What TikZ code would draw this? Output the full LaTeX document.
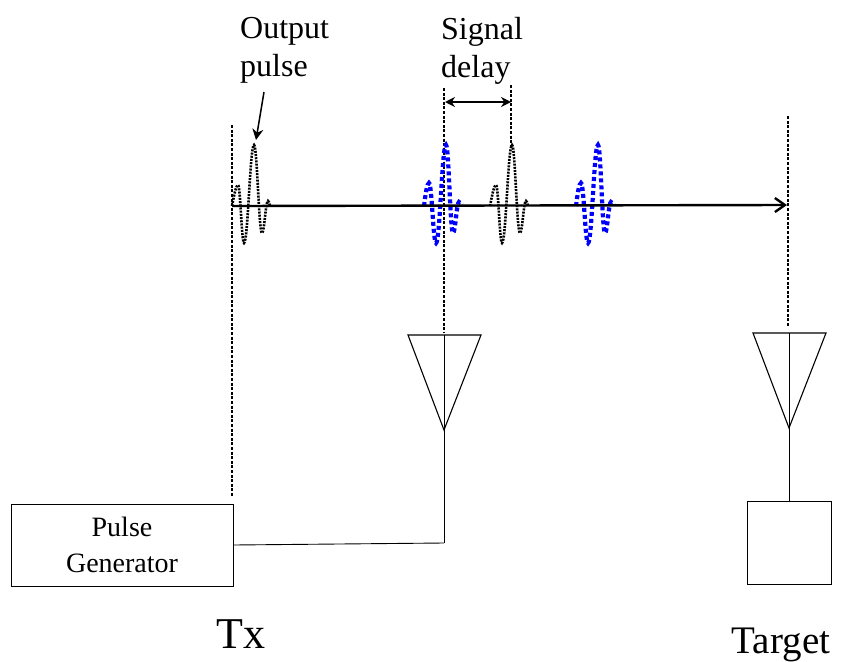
\documentclass[tikz,border=0pt]{standalone}
\usepackage{fontspec}
\setmainfont{Liberation Serif}
\usetikzlibrary{positioning,calc,arrows.meta}
\tikzset{
  pulsepath/.pic={\draw[pic actions] (0,0) .. controls (2,-10) and (4,-21) .. (6,-21)
    .. controls (8.4,-21) and (9.6,37) .. (12,37) .. controls (16,37) and (18,-61) .. (22,-61)
    .. controls (25.2,-61) and (26.8,27) .. (30,27) .. controls (32.4,27) and (33.6,-5) .. (36,-5)
    .. controls (36.8,-5) and (37.4,-3) .. (38,0);},
  bluepulsepath/.pic={\draw[pic actions] (0,0) .. controls (1.6,-12) and (3,-23) .. (5,-23)
    .. controls (7.8,-23) and (9.2,37) .. (12,37) .. controls (16,37) and (18,-61) .. (22,-61)
    .. controls (24.8,-61) and (26.2,27) .. (29,27) .. controls (31.4,27) and (32.6,-4) .. (35,-4)
    .. controls (36,-4) and (37,-2) .. (38,-1);},
  blackpulse/.style={line width=2.6pt,dash pattern=on 2pt off 1.2pt},
  bluepulse/.style={blue,line width=4.2pt,dash pattern=on 4pt off 3pt},
  guide/.style={line width=1.2pt,dash pattern=on 3pt off 1.6pt},
  lbl/.style={font=\fontsize{32}{38}\selectfont,align=left,inner sep=0pt},
}
\begin{document}
\begin{tikzpicture}[x=1pt,y=-1pt]
  \useasboundingbox (0,0) rectangle (847,662);
  % labels on top
  \node[lbl,anchor=north west] (outlabel) at (240,17) {Output\\pulse};
  \node[lbl,anchor=north west] (delaylabel) at (441,17) {Signal\\delay};
  \node[font=\fontsize{44}{44}\selectfont,inner sep=0pt] (txlabel) at (241,634) {Tx};
  \node[font=\fontsize{39}{39}\selectfont,inner sep=0pt] (targetlabel) at (781,645) {Target};
  % boxes
  \node[draw,line width=1pt,minimum width=222pt,minimum height=82pt,inner sep=0pt,align=center,
        font=\fontsize{28}{36}\selectfont] (pulsegen) at (122,545) {Pulse\\Generator};
  \node[draw,line width=1pt,minimum width=84pt,minimum height=83pt,inner sep=0pt] (targetbox) at (789,542.5) {};
  % antennas
  \coordinate (txtop) at (444,335);
  \coordinate (txtip) at (444,430);
  \coordinate (txfeed) at (444,543);
  \coordinate (tgtop) at (789,333);
  \coordinate (tgtip) at (789,428);
  \draw[line width=1.1pt] (408,335) -- (481,335) -- (txtip) -- cycle;
  \draw[line width=1.1pt] (753,333) -- (826,333) -- (tgtip) -- cycle;
  \draw[line width=0.9pt] (txtop) -- (txfeed);
  \draw[line width=0.9pt] (pulsegen.east) -- (txfeed);
  \draw[line width=0.9pt] (tgtop) -- (targetbox.north);
  % dashed guides
  \coordinate (guideAa) at (232,125);
  \coordinate (guideAb) at (232,497);
  \coordinate (guideBa) at (444,88);
  \coordinate (guideBb) at (444,332);
  \coordinate (guideCa) at (511,85);
  \coordinate (guideCb) at (511,146);
  \coordinate (guideDa) at (788,116);
  \coordinate (guideDb) at (788,326);
  \draw[guide] (guideAa) -- (guideAb);
  \draw[guide] (guideBa) -- (guideBb);
  \draw[guide] (guideCa) -- (guideCb);
  \draw[guide] (guideDa) -- (guideDb);
  % pulses
  \coordinate (axisstart) at (232,206);
  \coordinate (axisend) at (787,205);
  \pic[blackpulse] at (axisstart) {pulsepath};
  \pic[blackpulse] at (490,206) {pulsepath};
  \pic[bluepulse] at (424,206) {bluepulsepath};
  \pic[bluepulse] at (576,206) {bluepulsepath};
  \draw[line width=2.4pt,-{Straight Barb[length=10pt,width=14pt]}] (axisstart) -- (axisend);
  % delay and output arrows
  \coordinate (delayL) at (445,102);
  \coordinate (delayR) at (511,102);
  \draw[line width=1.6pt,{Stealth[length=10pt,width=10pt]}-{Stealth[length=10pt,width=10pt]}] (delayL) -- (delayR);
  \coordinate (outtail) at (264,92);
  \coordinate (outhead) at (256,140);
  \draw[line width=1.5pt,-{Stealth[length=11pt,width=11pt]}] (outtail) -- (outhead);
\end{tikzpicture}
\end{document}
